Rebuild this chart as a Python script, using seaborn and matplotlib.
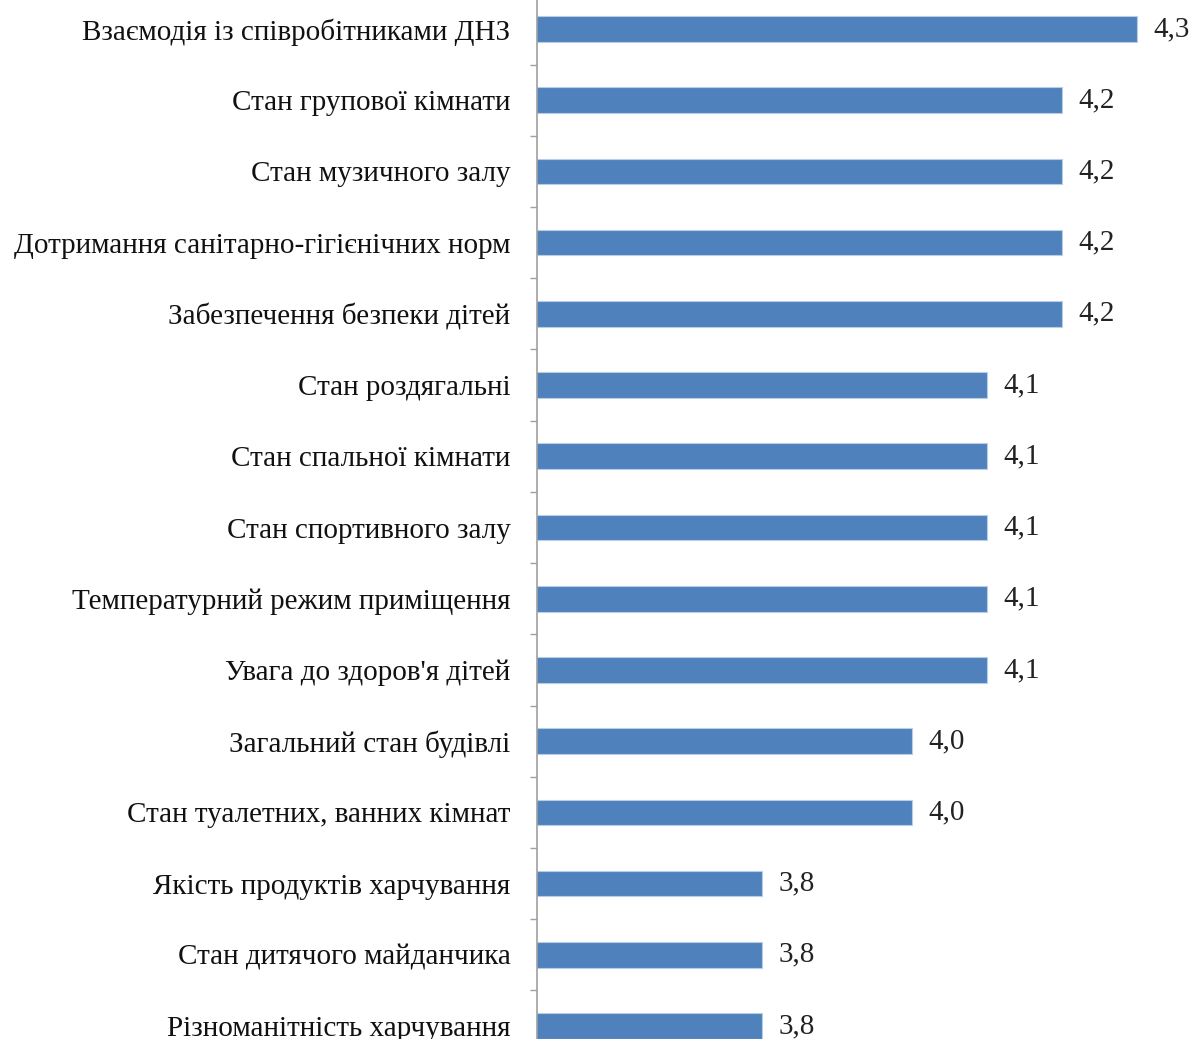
import matplotlib
matplotlib.use("Agg")
import matplotlib.pyplot as plt
import seaborn as sns
from matplotlib.ticker import FixedLocator

categories = [
    "Взаємодія із співробітниками ДНЗ",
    "Стан групової кімнати",
    "Стан музичного залу",
    "Дотримання санітарно-гігієнічних норм",
    "Забезпечення безпеки дітей",
    "Стан роздягальні",
    "Стан спальної кімнати",
    "Стан спортивного залу",
    "Температурний режим приміщення",
    "Увага до здоров'я дітей",
    "Загальний стан будівлі",
    "Стан туалетних, ванних кімнат",
    "Якість продуктів харчування",
    "Стан дитячого майданчика",
    "Різноманітність харчування",
]
scores = [4.3, 4.2, 4.2, 4.2, 4.2, 4.1, 4.1, 4.1, 4.1, 4.1, 4.0, 4.0, 3.8, 3.8, 3.8]

sns.set_style("white")
plt.rcParams["font.family"] = ["Liberation Serif", "DejaVu Serif"]

fig = plt.figure(figsize=(11.92, 10.39), dpi=100)
# axes deliberately runs past the figure edges (the source picture is cropped)
ax = fig.add_axes([537 / 1192, -22.6 / 1039, 675 / 1192, 1068.2 / 1039])

sns.barplot(x=scores, y=categories, color="#4F81BD", width=0.36, orient="h",
            edgecolor="#B9CDE5", linewidth=0.8, saturation=1, ax=ax)

ax.set_xlim(3.5, 4.4)
ax.set_ylim(14.5, -0.5)

labels = [f"{v:.1f}".replace(".", ",") for v in scores]
ax.bar_label(ax.containers[0], labels=labels, padding=12, fontsize=21, color="#222222")

for side in ["top", "right", "bottom"]:
    ax.spines[side].set_visible(False)
ax.spines["left"].set_color("#A0A0A0")
ax.spines["left"].set_linewidth(1.2)

ax.set_xticks([])
ax.set_xlabel("")
ax.set_ylabel("")
ax.tick_params(axis="y", which="major", left=False, length=0, pad=19, labelsize=21, labelcolor="#111111")
ax.yaxis.set_minor_locator(FixedLocator([i + 0.5 for i in range(-1, len(categories))]))
ax.tick_params(axis="y", which="minor", left=True, length=5, width=1.0, color="#A0A0A0")

fig.savefig("out.png", dpi=100)
plt.close(fig)
